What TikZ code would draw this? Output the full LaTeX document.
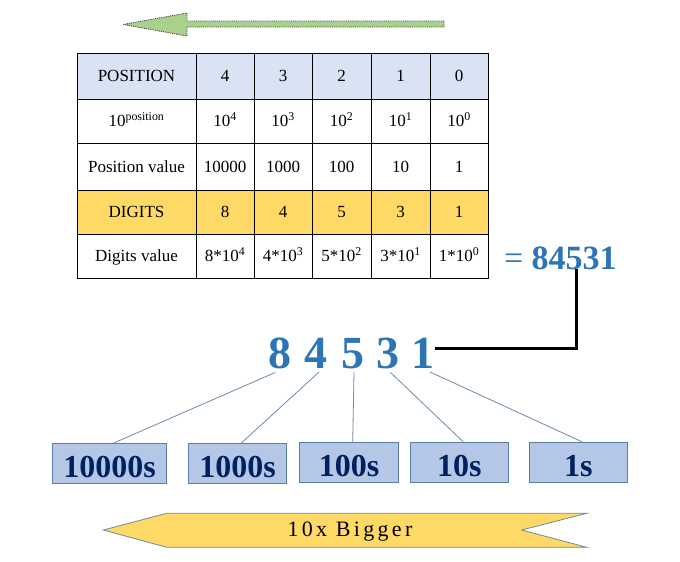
\documentclass[tikz,border=0pt]{standalone}
\usepackage{fontspec}
\setmainfont{Liberation Serif}
\newfontfamily\spacedfont[LetterSpace=15]{Liberation Serif}
\usetikzlibrary{calc}
\definecolor{rowblue}{HTML}{DAE3F3}
\definecolor{gold}{HTML}{FFD966}
\definecolor{arrowgreen}{HTML}{A9D18E}
\definecolor{boxfill}{HTML}{B4C7E7}
\definecolor{boxline}{HTML}{5B7FA6}
\definecolor{navy}{HTML}{002060}
\definecolor{numblue}{HTML}{2E75B6}
\definecolor{connline}{HTML}{6F8AA6}
\begin{document}
\begin{tikzpicture}[x=1pt,y=-1pt,
  cell/.style 2 args={draw=black,line width=0.8pt,inner sep=0pt,outer sep=0pt,
    minimum width=#1,minimum height=#2,text height=11.5pt,text depth=0pt,
    font=\fontsize{17}{20}\selectfont},
  bigdigit/.style={inner sep=0pt,outer sep=0pt,anchor=base,text=numblue,
    font=\fontsize{46}{50}\selectfont\bfseries},
  placebox/.style={draw=boxline,fill=boxfill,line width=0.8pt,inner sep=0pt,
    minimum width=#1,minimum height=40pt,text height=27.4pt,text depth=0pt,
    text=navy,font=\fontsize{32}{36}\selectfont\bfseries},
  conn/.style={draw=connline,line width=0.8pt}]
\useasboundingbox (0,0) rectangle (680,562);
\fill[white] (0,0) rectangle (680,562);

% top arrow
\draw[fill=arrowgreen,draw=black!75,densely dotted,line width=0.9pt]
  (444,21) -- (187,21) -- (187,13) -- (123,24.5) -- (187,36) -- (187,27) -- (444,27) -- cycle;

% table row 1
\node[cell={119pt}{46pt},fill=rowblue] (t11) at (136.5,76) {POSITION};
\node[cell={58pt}{46pt},fill=rowblue] (t12) at (225,76) {4};
\node[cell={58pt}{46pt},fill=rowblue] (t13) at (283,76) {3};
\node[cell={59pt}{46pt},fill=rowblue] (t14) at (341.5,76) {2};
\node[cell={59pt}{46pt},fill=rowblue] (t15) at (400.5,76) {1};
\node[cell={58pt}{46pt},fill=rowblue] (t16) at (459,76) {0};
% row 2
\node[cell={119pt}{44pt}] (t21) at (136.5,121) {10\textsuperscript{position}};
\node[cell={58pt}{44pt}] (t22) at (225,121) {10\textsuperscript{4}};
\node[cell={58pt}{44pt}] (t23) at (283,121) {10\textsuperscript{3}};
\node[cell={59pt}{44pt}] (t24) at (341.5,121) {10\textsuperscript{2}};
\node[cell={59pt}{44pt}] (t25) at (400.5,121) {10\textsuperscript{1}};
\node[cell={58pt}{44pt}] (t26) at (459,121) {10\textsuperscript{0}};
% row 3
\node[cell={119pt}{47pt}] (t31) at (136.5,166.5) {Position value};
\node[cell={58pt}{47pt}] (t32) at (225,166.5) {10000};
\node[cell={58pt}{47pt}] (t33) at (283,166.5) {1000};
\node[cell={59pt}{47pt}] (t34) at (341.5,166.5) {100};
\node[cell={59pt}{47pt}] (t35) at (400.5,166.5) {10};
\node[cell={58pt}{47pt}] (t36) at (459,166.5) {1};
% row 4
\node[cell={119pt}{44pt},fill=gold] (t41) at (136.5,212) {DIGITS};
\node[cell={58pt}{44pt},fill=gold] (t42) at (225,212) {8};
\node[cell={58pt}{44pt},fill=gold] (t43) at (283,212) {4};
\node[cell={59pt}{44pt},fill=gold] (t44) at (341.5,212) {5};
\node[cell={59pt}{44pt},fill=gold] (t45) at (400.5,212) {3};
\node[cell={58pt}{44pt},fill=gold] (t46) at (459,212) {1};
% row 5
\node[cell={119pt}{44pt}] (t51) at (136.5,256) {Digits value};
\node[cell={58pt}{44pt}] (t52) at (225,256) {8*10\textsuperscript{4}};
\node[cell={58pt}{44pt}] (t53) at (283,256) {4*10\textsuperscript{3}};
\node[cell={59pt}{44pt}] (t54) at (341.5,256) {5*10\textsuperscript{2}};
\node[cell={59pt}{44pt}] (t55) at (400.5,256) {3*10\textsuperscript{1}};
\node[cell={58pt}{44pt}] (t56) at (459,256) {1*10\textsuperscript{0}};

% result
\node[inner sep=0pt,outer sep=0pt,anchor=base west,text=numblue,
  font=\fontsize{34}{38}\selectfont] (res) at (504,269) {= \textbf{84531}};
\coordinate (resx) at (576,269);

% big digits
\node[bigdigit] (d8) at (280.3,368) {8};
\node[bigdigit] (d4) at (315.5,368) {4};
\node[bigdigit] (d5) at (353.3,368) {5};
\node[bigdigit] (d3) at (387.5,368) {3};
\node[bigdigit] (d1) at (423.3,368) {1};

% black connector
\coordinate (bend) at (576,348.3);
\draw[line width=3pt] (bend |- res.south) -- (bend) -- (bend -| d1.east);

% place boxes
\node[placebox=114pt] (b1) at (109.5,463.3) {10000s};
\node[placebox=98pt] (b2) at (237.5,463.3) {1000s};
\node[placebox=99pt] (b3) at (349,462.5) {100s};
\node[placebox=98pt] (b4) at (459.3,462.3) {10s};
\node[placebox=98pt] (b5) at (578.3,462.3) {1s};

% connectors
\draw[conn] ([xshift=-5pt,yshift=-4pt]d8.south) -- ([xshift=4.5pt]b1.north);
\draw[conn] ([xshift=3.5pt,yshift=-4pt]d4.south) -- ([xshift=4pt]b2.north);
\draw[conn] ([xshift=0.7pt,yshift=-4pt]d5.south) -- ([xshift=3.7pt]b3.north);
\draw[conn] ([xshift=3pt,yshift=-4pt]d3.south) -- ([xshift=4pt]b4.north);
\draw[conn] ([xshift=6.7pt,yshift=-4pt]d1.south) -- ([xshift=4pt]b5.north);

% bottom banner
\draw[fill=gold,draw=connline,line width=0.8pt]
  (166.7,513.3) -- (586.7,513.3) -- (521.7,530) -- (586.7,547.3)
  -- (166.7,547.3) -- (103.3,530) -- cycle;
\node[inner sep=0pt,anchor=base,font=\spacedfont\fontsize{22}{26}\selectfont]
  (bigger) at (350,536.7) {10x Bigger};
\end{tikzpicture}
\end{document}
